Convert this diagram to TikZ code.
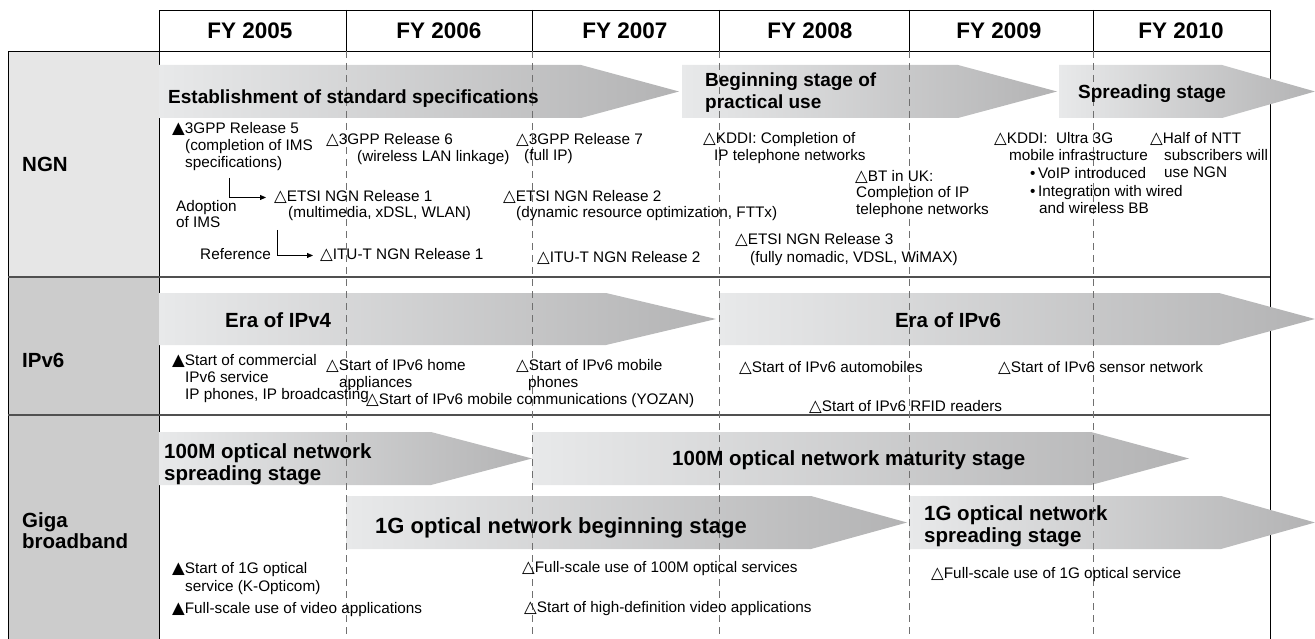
\documentclass[tikz,border=0pt]{standalone}
\usepackage{fontspec}
\setmainfont{Liberation Sans}
\newfontfamily\symf{DejaVu Sans}
\usetikzlibrary{arrows.meta}
\newcommand{\wtri}{{\symf\fontsize{16.5}{16.5}\selectfont △}}
\newcommand{\btri}{{\symf\fontsize{16.5}{16.5}\selectfont ▲}}
\definecolor{stL}{HTML}{E8E9EA}
\definecolor{stR}{HTML}{B3B3B4}
\definecolor{rowA}{HTML}{E6E6E6}
\definecolor{rowB}{HTML}{CCCCCC}
\definecolor{sepc}{HTML}{505050}
\definecolor{dashc}{HTML}{707070}
\tikzset{
  tx/.style={font=\fontsize{15.3}{17}\selectfont, inner sep=0pt, anchor=base west},
  lbl/.style={font=\bfseries\fontsize{20.5}{22}\selectfont, inner sep=0pt, anchor=base west},
  lblS/.style={lbl, font=\bfseries\fontsize{19}{22}\selectfont},
  lblL/.style={lbl, font=\bfseries\fontsize{22}{22}\selectfont},
  rowl/.style={font=\bfseries\fontsize{20.5}{21}\selectfont, inner sep=0pt, anchor=base west},
  hdr/.style={font=\bfseries\fontsize{22.5}{22}\selectfont, inner sep=0pt, anchor=base},
  stage/.style={left color=stL, right color=stR},
  frame/.style={draw=black, line width=0.9pt},
  sep/.style={draw=sepc, line width=1.6pt},
  colsep/.style={draw=dashc, line width=0.7pt, dash pattern=on 7pt off 5pt},
  conn/.style={draw=black, line width=0.8pt, -{Triangle[length=6pt,width=5pt]}}
}
\begin{document}
\begin{tikzpicture}[x=1pt,y=-1pt]
\useasboundingbox (0,0) rectangle (1315,639);
% row label column
\fill[rowA] (8,51) rectangle (159,277);
\fill[rowB] (8,277) rectangle (159,415);
\fill[rowB] (8,415) rectangle (159,639);
% frame
\draw[frame] (159,639) -- (159,10) -- (1270,10) -- (1270,639);
\draw[frame] (8,639) -- (8,51) -- (1270,51);
\foreach \x in {346,532,719,909,1093} \draw[frame] (\x,10) -- (\x,51);
\draw[sep] (8,277) -- (1270,277);
\draw[sep] (8,415) -- (1270,415);
% stage arrows
\shade[stage] (159,65) -- (581,65) -- (679,91.5) -- (581,118) -- (159,118) -- cycle;
\shade[stage] (682,65) -- (958,65) -- (1057,91.5) -- (958,118) -- (682,118) -- cycle;
\shade[stage] (1059,65) -- (1222,65) -- (1315,91.5) -- (1222,118) -- (1059,118) -- cycle;
\shade[stage] (159,293) -- (606,293) -- (716,319) -- (606,345) -- (159,345) -- cycle;
\shade[stage] (719,293) -- (1219,293) -- (1315,319) -- (1219,345) -- (719,345) -- cycle;
\shade[stage] (159,432) -- (431,432) -- (532,458.5) -- (431,485) -- (159,485) -- cycle;
\shade[stage] (532,432) -- (1091,432) -- (1189,458.5) -- (1091,485) -- (532,485) -- cycle;
\shade[stage] (346,496) -- (811,496) -- (907,522.5) -- (811,549) -- (346,549) -- cycle;
\shade[stage] (909,496) -- (1221,496) -- (1315,522.5) -- (1221,549) -- (909,549) -- cycle;
% dashed column lines
\foreach \x in {346,532,719,909,1093} \draw[colsep] (\x,51) -- (\x,639);
% header
\node[hdr] (fy5) at (250,39) {FY 2005};
\node[hdr] (fy6) at (439,39) {FY 2006};
\node[hdr] (fy7) at (625,39) {FY 2007};
\node[hdr] (fy8) at (810,39) {FY 2008};
\node[hdr] (fy9) at (999,39) {FY 2009};
\node[hdr] (fy10) at (1181,39) {FY 2010};
% row labels
\node[rowl] (rNGN) at (22,172) {NGN};
\node[rowl] (rIP) at (22,367) {IPv6};
\node[rowl, align=left] (rGiga) at (22,548) {Giga\\broadband};
% stage labels (multi-line nodes are placed at the baseline of their last line)
\node[lblS] (st1) at (168,104) {Establishment of standard specifications};
\node[lblS, align=left] (st2) at (705,109) {Beginning stage of\\practical use};
\node[lblS] (st3) at (1078,99) {Spreading stage};
\node[lbl] (st4) at (225,327) {Era of IPv4};
\node[lbl, anchor=base] (st5) at (948,327) {Era of IPv6};
\node[lbl, align=left] (st6) at (164,480) {100M optical network\\spreading stage};
\node[lbl] (st7) at (672,465) {100M optical network maturity stage};
\node[lblL] (st8) at (375,533) {1G optical network beginning stage};
\node[lbl, align=left] (st9) at (924,542) {1G optical network\\spreading stage};
% NGN events
\node[tx] (rel5) at (172,134) {\btri3GPP Release 5};
\node[tx] (rel5b) at (185,151) {(completion of IMS};
\node[tx] (rel5c) at (185,168) {specifications)};
\node[tx] (rel6) at (326,145) {\wtri3GPP Release 6};
\node[tx] (rel6b) at (357,162) {(wireless LAN linkage)};
\node[tx] (rel7) at (516,145) {\wtri3GPP Release 7};
\node[tx] (rel7b) at (524,161) {(full IP)};
\node[tx] (kddi1) at (703,144) {\wtri KDDI: Completion of};
\node[tx] (kddi1b) at (714,161) {IP telephone networks};
\node[tx] (kddi2) at (994,144) {\wtri KDDI:\ \ Ultra 3G};
\node[tx] (kddi2b) at (1009,161) {mobile infrastructure};
\node[tx] (kddi2c) at (1030,179) {\textbullet\,VoIP introduced};
\node[tx] (kddi2d) at (1030,197) {\textbullet\,Integration with wired};
\node[tx] (kddi2e) at (1039,214) {and wireless BB};
\node[tx] (ntt) at (1150,144) {\wtri Half of NTT};
\node[tx] (nttb) at (1164,161) {subscribers will};
\node[tx] (nttc) at (1164,178) {use NGN};
\node[tx] (bt) at (855,182) {\wtri BT in UK:};
\node[tx] (btb) at (856,198) {Completion of IP};
\node[tx] (btc) at (856,215) {telephone networks};
\node[tx] (etsi1) at (274,202) {\wtri ETSI NGN Release 1};
\node[tx] (etsi1b) at (288,218) {(multimedia, xDSL, WLAN)};
\node[tx] (adopt) at (176,212) {Adoption};
\node[tx] (adoptb) at (176,228) {of IMS};
\node[tx] (etsi2) at (503,202) {\wtri ETSI NGN Release 2};
\node[tx] (etsi2b) at (516,218) {(dynamic resource optimization, FTTx)};
\node[tx, anchor=base east] (refr) at (271,260) {Reference};
\node[tx] (itu1) at (320,260) {\wtri ITU-T NGN Release 1};
\node[tx] (itu2) at (537,263) {\wtri ITU-T NGN Release 2};
\node[tx] (etsi3) at (735,245) {\wtri ETSI NGN Release 3};
\node[tx] (etsi3b) at (750,262) {(fully nomadic, VDSL, WiMAX)};
\coordinate (a1) at (229,178);
\coordinate (a2) at (277,230);
\draw[conn] (a1) |- ([xshift=-8pt]etsi1.west);
\draw[conn] (a2) |- ([xshift=-7pt]itu1.west);
% IPv6 events
\node[tx] (s1) at (172,365) {\btri Start of commercial};
\node[tx] (s1b) at (185,382) {IPv6 service};
\node[tx] (s1c) at (185,399) {IP phones, IP broadcasting};
\node[tx] (s2) at (326,370) {\wtri Start of IPv6 home};
\node[tx] (s2b) at (339,387) {appliances};
\node[tx] (s3) at (516,370) {\wtri Start of IPv6 mobile};
\node[tx] (s3b) at (528,387) {phones};
\node[tx] (s4) at (366,404) {\wtri Start of IPv6 mobile communications (YOZAN)};
\node[tx] (s5) at (739,372) {\wtri Start of IPv6 automobiles};
\node[tx] (s6) at (998,372) {\wtri Start of IPv6 sensor network};
\node[tx] (s7) at (809,411) {\wtri Start of IPv6 RFID readers};
% Giga events
\node[tx] (g1) at (172,573) {\btri Start of 1G optical};
\node[tx] (g1b) at (185,591) {service (K-Opticom)};
\node[tx] (g2) at (172,613) {\btri Full-scale use of video applications};
\node[tx] (g3) at (522,572) {\wtri Full-scale use of 100M optical services};
\node[tx] (g4) at (524,612) {\wtri Start of high-definition video applications};
\node[tx] (g5) at (931,578) {\wtri Full-scale use of 1G optical service};
\end{tikzpicture}
\end{document}
